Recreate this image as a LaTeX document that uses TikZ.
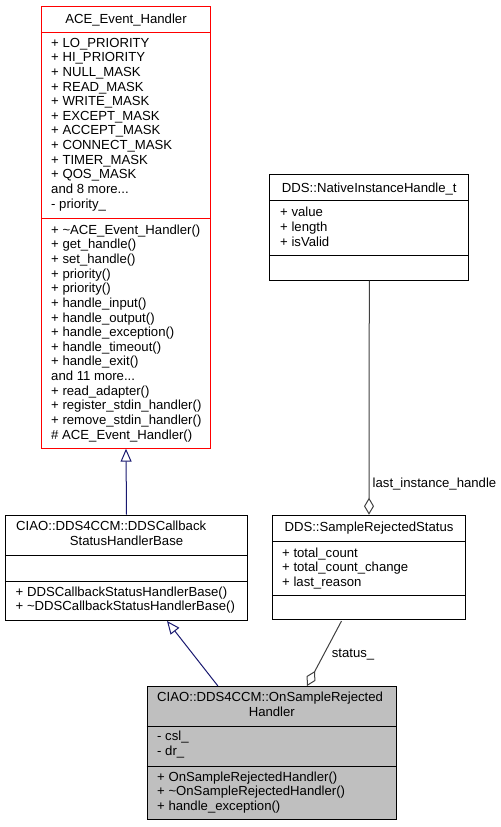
\documentclass[tikz,border=0pt]{standalone}
\usepackage{fontspec}
\setmainfont{Liberation Sans}
\usetikzlibrary{arrows.meta}

\definecolor{edgeblue}{HTML}{191970}
\definecolor{edgegray}{HTML}{404040}
\definecolor{boxred}{HTML}{FF0000}
\definecolor{boxgray}{HTML}{BFBFBF}

\tikzset{
    classbox/.style={draw, line width=1bp, inner sep=0pt},
    members/.style={anchor=north west, yshift=10.29bp, align=left, inner sep=0pt,
        font=\fontsize{13.2}{14.7}\selectfont\strut},
    classname/.style={anchor=base, inner sep=0pt,
        font=\fontsize{13.2}{15}\selectfont},
    inherit/.style={edgeblue, line width=1bp,
        -{Triangle[open, length=13bp, width=11bp]}},
    aggregate/.style={edgegray, line width=1bp,
        -{Diamond[open, length=17bp, width=10bp]}},
}

\begin{document}
\begin{tikzpicture}[x=1bp, y=-1bp]
    \useasboundingbox (0,0) rectangle (501,827);

    % Boxes
    \node[classbox, draw=boxred, minimum width=170, minimum height=443] (ace) at (126,227.5) {};
    \node[classbox, minimum width=243, minimum height=106] (base) at (126.5,568) {};
    \node[classbox, minimum width=200, minimum height=106] (native) at (369.3,227.2) {};
    \node[classbox, minimum width=193.4, minimum height=105] (status) at (369,567.5) {};
    \node[classbox, fill=boxgray, minimum width=250.3, minimum height=134] (handler) at (271.8,753) {};

    % Separators
    \draw[boxred, line width=1bp] (ace.west |- 0,32) -- (ace.east |- 0,32);
    \draw[boxred, line width=1bp] (ace.west |- 0,218.5) -- (ace.east |- 0,218.5);
    \draw[line width=1bp] (base.west |- 0,555) -- (base.east |- 0,555);
    \draw[line width=1bp] (base.west |- 0,581) -- (base.east |- 0,581);
    \draw[line width=1bp] (native.west |- 0,200.5) -- (native.east |- 0,200.5);
    \draw[line width=1bp] (native.west |- 0,255) -- (native.east |- 0,255);
    \draw[line width=1bp] (status.west |- 0,541) -- (status.east |- 0,541);
    \draw[line width=1bp] (status.west |- 0,595) -- (status.east |- 0,595);
    \draw[line width=1bp] (handler.west |- 0,726) -- (handler.east |- 0,726);
    \draw[line width=1bp] (handler.west |- 0,766) -- (handler.east |- 0,766);

    % ACE_Event_Handler
    \node[classname] (acetitle) at (126,23) {ACE\_Event\_Handler};
    \node[members] (aceattrs) at (51,48) {+ LO\_PRIORITY\\+ HI\_PRIORITY\\+ NULL\_MASK\\+ READ\_MASK\\+ WRITE\_MASK\\+ EXCEPT\_MASK\\+ ACCEPT\_MASK\\+ CONNECT\_MASK\\+ TIMER\_MASK\\+ QOS\_MASK\\and 8 more...\\- priority\_};
    \node[members] (aceops) at (51,234.7) {+ \textasciitilde ACE\_Event\_Handler()\\+ get\_handle()\\+ set\_handle()\\+ priority()\\+ priority()\\+ handle\_input()\\+ handle\_output()\\+ handle\_exception()\\+ handle\_timeout()\\+ handle\_exit()\\and 11 more...\\+ read\_adapter()\\+ register\_stdin\_handler()\\+ remove\_stdin\_handler()\\\# ACE\_Event\_Handler()};

    % CIAO::DDS4CCM::DDSCallbackStatusHandlerBase
    \node[classname, anchor=base west] (basetitle) at (16,530.7) {CIAO::DDS4CCM::DDSCallback};
    \node[classname] (basetitle2) at (126.5,545.7) {StatusHandlerBase};
    \node[members] (baseops) at (15.5,596.7) {+ DDSCallbackStatusHandlerBase()\\+ \textasciitilde DDSCallbackStatusHandlerBase()};

    % DDS::NativeInstanceHandle_t
    \node[classname] (nativetitle) at (369.3,192) {DDS::NativeInstanceHandle\_t};
    \node[members] (nativeattrs) at (280,217.4) {+ value\\+ length\\+ isValid};

    % DDS::SampleRejectedStatus
    \node[classname] (statustitle) at (369,531.3) {DDS::SampleRejectedStatus};
    \node[members] (statusattrs) at (282,557.7) {+ total\_count\\+ total\_count\_change\\+ last\_reason};

    % CIAO::DDS4CCM::OnSampleRejectedHandler
    \node[classname, anchor=base west] (handlertitle) at (157,701.7) {CIAO::DDS4CCM::OnSampleRejected};
    \node[classname] (handlertitle2) at (271.8,716.7) {Handler};
    \node[members] (handlerattrs) at (157,741.4) {- csl\_\\- dr\_};
    \node[members] (handlerops) at (157,781.7) {+ OnSampleRejectedHandler()\\+ \textasciitilde OnSampleRejectedHandler()\\+ handle\_exception()};

    % Connections
    \draw[inherit] (base.north) -- (ace.south);
    \draw[inherit] (handler.north west |- 0,686) ++(71.3,0) coordinate (hin) (hin) -- (167,621);
    \draw[aggregate] (native.south) -- (status.north);
    \draw[aggregate] (341.5,621) coordinate (sout) -- (307,686);

    % Labels
    \node[members] (instlabel) at (372.5,487) {last\_instance\_handle};
    \node[members] (statuslabel) at (331.7,657) {status\_};
\end{tikzpicture}
\end{document}
